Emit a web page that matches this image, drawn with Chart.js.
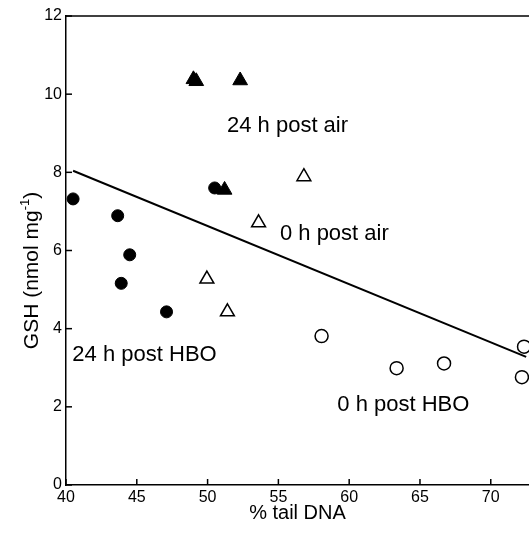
<!DOCTYPE html>
<html><head><meta charset="utf-8">
<script src="https://cdn.jsdelivr.net/npm/chart.js@4.4.1/dist/chart.umd.min.js"></script>
<style>html,body{margin:0;padding:0;background:#fff;}canvas{display:block;}</style>
</head><body>
<canvas id="c" width="529" height="541"></canvas>
<script>
// ---- data ----
const xTicks = [40, 45, 50, 55, 60, 65, 70];
const yTicks = [0, 2, 4, 6, 8, 10, 12];

// 24 h post HBO (filled circles)
const hbo24X = [40.5, 43.65, 44.5, 43.9, 47.1, 50.5];
const hbo24Y = [7.32, 6.89, 5.89, 5.16, 4.43, 7.6];
// 24 h post air (filled triangles)
const air24X = [49.0, 49.2, 52.3, 51.2];
const air24Y = [10.38, 10.33, 10.35, 7.55];
// 0 h post air (open triangles)
const air0X = [56.8, 53.6, 49.95, 51.4];
const air0Y = [7.89, 6.71, 5.27, 4.43];
// 0 h post HBO (open circles)
const hbo0X = [58.05, 63.35, 66.7, 72.35, 72.2];
const hbo0Y = [3.81, 2.99, 3.11, 3.54, 2.76];
// regression line
const fitX = [40.5, 72.5];
const fitY = [8.04, 3.28];
// group labels (anchored in data units)
const noteText = ['24 h post air', '0 h post air', '24 h post HBO', '0 h post HBO'];
const noteX = [51.37, 55.11, 40.45, 59.16];
const noteY = [9.04, 6.27, 3.18, 1.90];
// axis titles
const xTitle = '% tail DNA';
const yTitleMain = 'GSH (nmol mg';
const yTitleSup = '-1';
const yTitleEnd = ')';

const pts = (xs, ys) => xs.map((x, i) => ({ x, y: ys[i] }));
const FONT = "'Liberation Sans', Arial, Helvetica, sans-serif";

const frame = {
  id: 'frame',
  afterDraw(chart) {
    const { ctx, chartArea: a, scales: { x, y } } = chart;
    ctx.save();
    ctx.strokeStyle = '#000';
    ctx.lineWidth = 1.5;
    ctx.beginPath(); ctx.moveTo(a.left, a.top); ctx.lineTo(a.right, a.top); ctx.stroke();
    xTicks.forEach(v => {
      const px = x.getPixelForValue(v);
      ctx.beginPath(); ctx.moveTo(px, a.bottom); ctx.lineTo(px, a.bottom - 6); ctx.stroke();
    });
    yTicks.forEach(v => {
      const py = y.getPixelForValue(v);
      ctx.beginPath(); ctx.moveTo(a.left, py); ctx.lineTo(a.left + 6, py); ctx.stroke();
    });
    ctx.fillStyle = '#000';
    ctx.font = '22px ' + FONT;
    ctx.textAlign = 'left';
    ctx.textBaseline = 'alphabetic';
    noteText.forEach((t, i) => ctx.fillText(t, x.getPixelForValue(noteX[i]), y.getPixelForValue(noteY[i])));

    // y-axis title with superscript
    const big = '21px ' + FONT, small = '13px ' + FONT;
    ctx.font = big; const w1 = ctx.measureText(yTitleMain).width; const w3 = ctx.measureText(yTitleEnd).width;
    ctx.font = small; const w2 = ctx.measureText(yTitleSup).width;
    const total = w1 + w2 + w3;
    ctx.translate(a.left - 34, (a.top + a.bottom) / 2 + 20);
    ctx.rotate(-Math.PI / 2);
    ctx.textBaseline = 'middle';
    let sx = -total / 2;
    ctx.font = big; ctx.fillText(yTitleMain, sx, 0); sx += w1;
    ctx.font = small; ctx.fillText(yTitleSup, sx, -7); sx += w2;
    ctx.font = big; ctx.fillText(yTitleEnd, sx, 0);
    ctx.restore();
  }
};

new Chart(document.getElementById('c'), {
  type: 'scatter',
  data: {
    datasets: [
      { label: 'fit', type: 'line', data: pts(fitX, fitY), borderColor: '#000', borderWidth: 2,
        pointRadius: 0, fill: false, clip: false },
      { label: '24 h post HBO', data: pts(hbo24X, hbo24Y), pointStyle: 'circle', pointRadius: 6,
        backgroundColor: '#000', borderColor: '#000', borderWidth: 1, clip: false },
      { label: '24 h post air', data: pts(air24X, air24Y), pointStyle: 'triangle', pointRadius: 8.5,
        backgroundColor: '#000', borderColor: '#000', borderWidth: 1, clip: false },
      { label: '0 h post air', data: pts(air0X, air0Y), pointStyle: 'triangle', pointRadius: 8,
        backgroundColor: '#fff', borderColor: '#000', borderWidth: 1.5, clip: false },
      { label: '0 h post HBO', data: pts(hbo0X, hbo0Y), pointStyle: 'circle', pointRadius: 6.5,
        backgroundColor: '#fff', borderColor: '#000', borderWidth: 1.5, clip: false }
    ]
  },
  options: {
    responsive: false,
    animation: false,
    devicePixelRatio: 1,
    layout: { autoPadding: false, padding: { top: 16, left: 0, right: 0, bottom: 0 } },
    plugins: { legend: { display: false }, tooltip: { enabled: false } },
    scales: {
      x: {
        type: 'linear', min: 40, max: 72.7,
        afterBuildTicks: ax => { ax.ticks = xTicks.map(v => ({ value: v })); },
        afterFit: s => { s.height = 56; s.paddingLeft = 0; s.paddingRight = 0; },
        grid: { display: true, drawOnChartArea: false, drawTicks: false },
        border: { display: true, color: '#000', width: 1.5 },
        ticks: { color: '#000', font: { family: FONT, size: 16 }, padding: 3, maxRotation: 0, autoSkip: false },
        title: { display: true, text: xTitle, color: '#000', font: { family: FONT, size: 20 },
                 padding: { top: 0, bottom: 16 } }
      },
      y: {
        type: 'linear', min: 0, max: 12,
        afterBuildTicks: ax => { ax.ticks = yTicks.map(v => ({ value: v })); },
        afterFit: s => { s.width = 66; s.paddingTop = 0; s.paddingBottom = 0; },
        grid: { display: true, drawOnChartArea: false, drawTicks: false },
        border: { display: true, color: '#000', width: 1.5 },
        ticks: { color: '#000', font: { family: FONT, size: 16 }, padding: 4 },
        title: { display: false }
      }
    }
  },
  plugins: [frame]
});
</script>
</body></html>
